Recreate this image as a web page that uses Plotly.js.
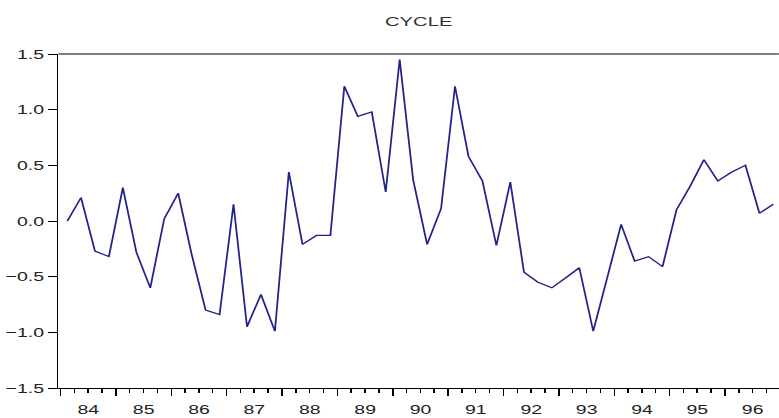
<!DOCTYPE html>
<html>
<head>
<meta charset="utf-8">
<script src="https://cdn.plot.ly/plotly-3.0.1.min.js"></script>
<style>
  html, body { margin: 0; padding: 0; background: #ffffff; overflow: hidden; }
  #plot { width: 520px; height: 418px; transform: scaleX(1.498); transform-origin: 0 0; }
</style>
</head>
<body>
<div id="plot"></div>
<script>
// Quarterly observations 1984Q1 - 1996Q4
const years = [1984, 1985, 1986, 1987, 1988, 1989, 1990, 1991, 1992, 1993, 1994, 1995, 1996];
const quarters = [1, 2, 3, 4];
const cycle = [
   0.00,  0.21, -0.27, -0.32,   // 1984
   0.30, -0.28, -0.60,  0.02,   // 1985
   0.25, -0.30, -0.80, -0.84,   // 1986
   0.15, -0.95, -0.66, -0.99,   // 1987
   0.44, -0.21, -0.13, -0.13,   // 1988
   1.21,  0.94,  0.98,  0.26,   // 1989
   1.45,  0.37, -0.21,  0.11,   // 1990
   1.21,  0.58,  0.36, -0.22,   // 1991
   0.35, -0.46, -0.55, -0.60,   // 1992
  -0.51, -0.42, -0.99, -0.50,   // 1993
  -0.03, -0.36, -0.32, -0.41,   // 1994
   0.10,  0.31,  0.55,  0.36,   // 1995
   0.44,  0.50,  0.07,  0.15    // 1996
];
const yTicks = [-1.5, -1.0, -0.5, 0.0, 0.5, 1.0, 1.5];

// quarter mid-points as dates
const xDates = [];
years.forEach(y => quarters.forEach(q => {
  const m = 3 * q - 1;
  xDates.push(y + '-' + String(m).padStart(2, '0') + '-15');
}));

const trace = {
  x: xDates,
  y: cycle,
  type: 'scatter',
  mode: 'lines',
  line: { color: '#23238c', width: 1.2 },
  hoverinfo: 'skip'
};

const layout = {
  width: 520,
  height: 418,
  margin: { l: 39, r: 0, t: 54, b: 30 },
  paper_bgcolor: '#ffffff',
  plot_bgcolor: '#ffffff',
  showlegend: false,
  font: { family: '"Liberation Sans", Arial, sans-serif', size: 13, color: '#222222' },
  title: {
    text: 'CYCLE',
    font: { family: '"Liberation Sans", Arial, sans-serif', size: 13.5, color: '#333333' },
    x: 0.5, xref: 'paper',
    y: 1 - 21 / 418, yref: 'container', yanchor: 'middle'
  },
  xaxis: {
    type: 'date',
    range: ['1983-12-18', '1996-12-22'],
    tick0: '1984-01-01',
    dtick: 'M12',
    tickformat: '%y',
    ticklabelmode: 'period',
    ticks: 'outside',
    ticklen: 7,
    tickwidth: 1,
    tickcolor: '#000000',
    minor: { dtick: 'M3', ticks: 'outside', ticklen: 4, tickwidth: 1, tickcolor: '#000000', showgrid: false },
    showline: true,
    linecolor: '#000000',
    linewidth: 1,
    showgrid: false,
    zeroline: false,
    tickfont: { size: 13, color: '#222222' },
    ticklabelstandoff: 2,
    fixedrange: true
  },
  yaxis: {
    range: [-1.5, 1.5],
    tickvals: yTicks,
    tickformat: '.1f',
    ticks: 'outside',
    ticklen: 6,
    tickwidth: 1,
    tickcolor: '#000000',
    showline: true,
    linecolor: '#000000',
    linewidth: 1,
    showgrid: false,
    zeroline: false,
    tickfont: { size: 13, color: '#222222' },
    fixedrange: true
  },
  shapes: [{
    type: 'line', xref: 'paper', yref: 'paper',
    x0: 0, x1: 1, y0: 1, y1: 1,
    line: { color: '#555555', width: 1.6 }
  }]
};

Plotly.newPlot('plot', [trace], layout, { displayModeBar: false, staticPlot: true });
</script>
</body>
</html>
